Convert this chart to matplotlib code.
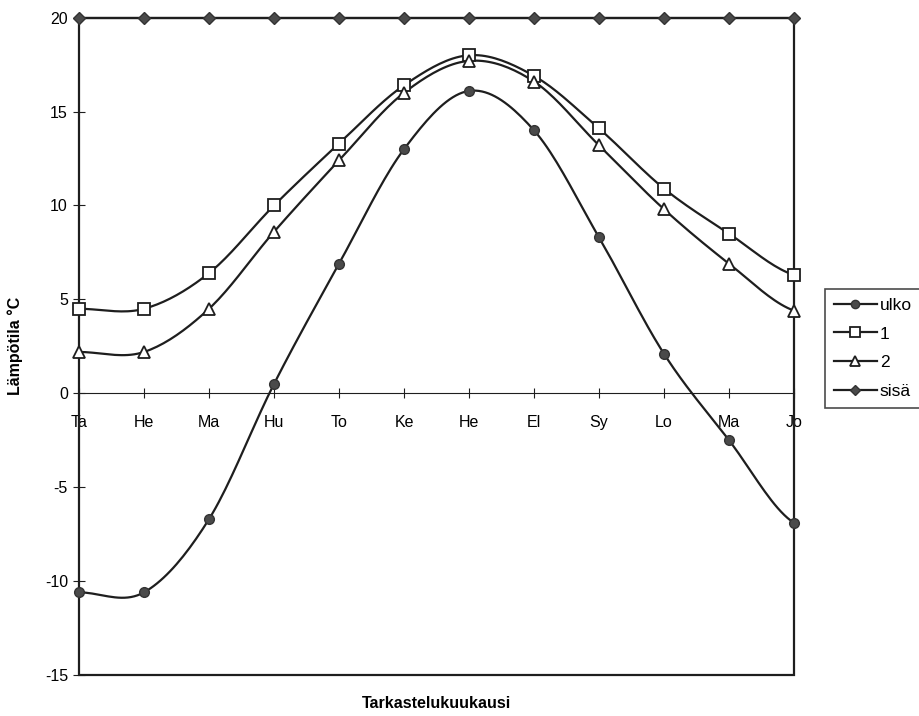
import numpy as np
import matplotlib
matplotlib.use("Agg")
import matplotlib.pyplot as plt
from matplotlib.patches import Rectangle

# Kuukaudet (months)
months = ["Ta", "He", "Ma", "Hu", "To", "Ke", "He", "El", "Sy", "Lo", "Ma", "Jo"]

# Lämpötilat (temperatures)
ulko = [-10.6, -10.6, -6.7, 0.5, 6.9, 13.0, 16.1, 14.0, 8.3, 2.1, -2.5, -6.9]
sarja1 = [4.5, 4.5, 6.4, 10.0, 13.3, 16.4, 18.0, 16.9, 14.1, 10.9, 8.5, 6.3]
sarja2 = [2.2, 2.2, 4.5, 8.6, 12.4, 16.0, 17.7, 16.6, 13.2, 9.8, 6.9, 4.4]
sisa = [20, 20, 20, 20, 20, 20, 20, 20, 20, 20, 20, 20]


def smooth(y, n=20):
    # Excel-tyylinen tasoitus (Catmull-Rom)
    y = np.asarray(y, dtype=float)
    x = np.arange(len(y), dtype=float)
    xs, ys = [], []
    for i in range(len(y) - 1):
        p0 = y[max(i - 1, 0)]
        p1, p2 = y[i], y[i + 1]
        p3 = y[min(i + 2, len(y) - 1)]
        t = np.linspace(0, 1, n, endpoint=False)
        c1 = p1 + (p2 - p0) / 6
        c2 = p2 - (p3 - p1) / 6
        seg = (1 - t) ** 3 * p1 + 3 * (1 - t) ** 2 * t * c1 + 3 * (1 - t) * t ** 2 * c2 + t ** 3 * p2
        xs.append(x[i] + t)
        ys.append(seg)
    xs.append([x[-1]])
    ys.append([y[-1]])
    return np.concatenate(xs), np.concatenate(ys)


plt.rcParams["font.family"] = ["Liberation Sans", "DejaVu Sans"]
plt.rcParams["axes.unicode_minus"] = False

fig = plt.figure(figsize=(9.19, 7.16), dpi=100)
ax = fig.add_axes([0.086, 0.0573, 0.778, 0.918])

x = np.arange(len(months))
line_c = "#1e1e1e"
mark_c = "#4a4a4a"

series = [
    (ulko, "ulko", dict(marker="o", markersize=7, markerfacecolor=mark_c, markeredgecolor="#333333")),
    (sarja1, "1", dict(marker="s", markersize=8, markerfacecolor="white", markeredgecolor=line_c, markeredgewidth=1.3)),
    (sarja2, "2", dict(marker="^", markersize=8, markerfacecolor="white", markeredgecolor=line_c, markeredgewidth=1.3)),
    (sisa, "sisä", dict(marker="D", markersize=6, markerfacecolor=mark_c, markeredgecolor="#333333")),
]

handles = []
for vals, name, mk in series:
    sx, sy = smooth(vals)
    ax.plot(sx, sy, color=line_c, lw=1.6, zorder=3, clip_on=False)
    ax.plot(x, vals, linestyle="none", zorder=4, clip_on=False, **mk)
    lmk = dict(mk)
    lmk["markersize"] = mk["markersize"] * 0.85
    h, = ax.plot([], [], color=line_c, lw=1.6, **lmk)
    handles.append(h)

ax.set_xlim(0, len(months) - 1)
ax.set_ylim(-15, 20)
ax.set_yticks([-15, -10, -5, 0, 5, 10, 15, 20])

# x-akseli nollan kohdalla (x axis at zero)
for s in ["top", "right", "left"]:
    ax.spines[s].set_visible(False)
ax.spines["bottom"].set_position(("data", 0))
ax.spines["bottom"].set_color(line_c)
ax.add_patch(Rectangle((0, 0), 1, 1, transform=ax.transAxes, fill=False,
                       edgecolor=line_c, lw=1.6, zorder=2, clip_on=False))

ax.set_xticks(x)
ax.set_xticklabels(months)
ax.tick_params(axis="x", direction="inout", length=7, pad=12, labelsize=11.5, color=line_c)
ax.tick_params(axis="y", direction="inout", length=8, pad=4, labelsize=11.5, color=line_c)

ax.set_ylabel("Lämpötila °C", fontsize=11.5, fontweight="bold")
ax.yaxis.set_label_coords(-0.078, 0.5)
fig.text(0.475, 0.018, "Tarkastelukuukausi", fontsize=11.5, fontweight="bold", ha="center", va="center")

leg = fig.legend(handles, [s[1] for s in series], loc="upper left",
                 bbox_to_anchor=(0.8977, 0.5964), frameon=True, fancybox=False,
                 fontsize=12.5, handlelength=2.5, handletextpad=0.15,
                 labelspacing=0.78, borderpad=0.5, borderaxespad=0)
leg.get_frame().set_edgecolor(line_c)
leg.get_frame().set_linewidth(1.2)

fig.savefig("out.png", dpi=100, facecolor="white")
